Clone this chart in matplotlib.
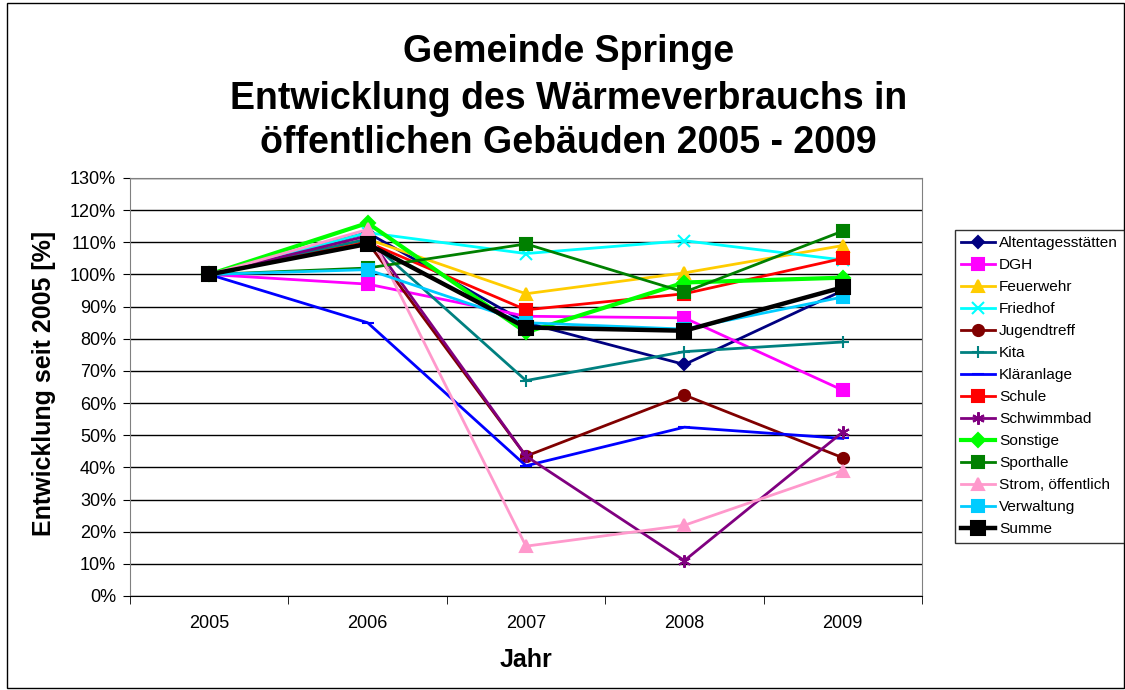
import matplotlib
matplotlib.use("Agg")
import matplotlib.pyplot as plt
from matplotlib.patches import Rectangle
from matplotlib.ticker import FuncFormatter

plt.rcParams['font.family'] = ['Liberation Sans', 'DejaVu Sans']

years = ["2005", "2006", "2007", "2008", "2009"]

altentagesstaetten = [100, 113, 85, 72, 95]
dgh = [100, 97, 87, 86.5, 64]
feuerwehr = [100, 111, 94, 100.5, 109]
friedhof = [100, 113, 106.5, 110.5, 104.5]
jugendtreff = [100, 110, 43.5, 62.5, 43]
kita = [100, 111, 67, 76, 79]
klaeranlage = [100, 85, 40.5, 52.5, 49]
schule = [100, 110, 89, 94, 105]
schwimmbad = [100, 112, 43.5, 11, 51]
sonstige = [100, 116, 82, 97.5, 99]
sporthalle = [100, 102, 109.5, 94.5, 113.5]
strom = [100, 114, 15.5, 22, 39]
verwaltung = [100, 101.5, 85, 83, 93]
summe = [100, 109.5, 83.5, 82.5, 96]

series = [
    ("Altentagesstätten", altentagesstaetten, "#000080", "D", 6, 2.0),
    ("DGH", dgh, "#FF00FF", "s", 8, 2.0),
    ("Feuerwehr", feuerwehr, "#FFCC00", "^", 9, 2.0),
    ("Friedhof", friedhof, "#00FFFF", "x", 8, 2.0),
    ("Jugendtreff", jugendtreff, "#800000", "o", 8, 2.0),
    ("Kita", kita, "#008080", "+", 9, 2.0),
    ("Kläranlage", klaeranlage, "#0000FF", "_", 8, 2.0),
    ("Schule", schule, "#FF0000", "s", 8, 2.0),
    ("Schwimmbad", schwimmbad, "#800080", (6, 2, 0), 9, 2.0),
    ("Sonstige", sonstige, "#00FF00", "D", 7, 3.0),
    ("Sporthalle", sporthalle, "#008000", "s", 8, 2.0),
    ("Strom, öffentlich", strom, "#FF99CC", "^", 9, 2.0),
    ("Verwaltung", verwaltung, "#00CCFF", "s", 8, 2.0),
    ("Summe", summe, "#000000", "s", 10, 3.2),
]

fig = plt.figure(figsize=(11.25, 6.9), dpi=100)
ax = fig.add_axes([130/1125, 1-596/690, (922-130)/1125, (596-178)/690])

x = list(range(len(years)))
handles = []
for name, vals, col, mk, ms, lw in series:
    h, = ax.plot(x, vals, color=col, marker=mk, markersize=ms, linewidth=lw,
                 markeredgecolor=col, markerfacecolor=col, markeredgewidth=1.5,
                 label=name, zorder=3)
    handles.append(h)

ax.set_xlim(-0.5, 4.5)
ax.set_ylim(0, 130)
ax.set_yticks(range(0, 131, 10))
ax.yaxis.set_major_formatter(FuncFormatter(lambda v, p: f"{int(v)}%"))
ax.set_xticks(x)
ax.set_xticklabels(years)
ax.set_xticks([i - 0.5 for i in range(6)], minor=True)
ax.tick_params(axis='x', which='major', length=0, pad=14, labelsize=13)
ax.tick_params(axis='x', which='minor', length=6, direction='out', color='black')
ax.tick_params(axis='y', length=5, direction='out', labelsize=13, pad=5)
ax.yaxis.grid(True, color='black', linewidth=1.0, zorder=0)
ax.set_axisbelow(True)
for s in ['top', 'right', 'left']:
    ax.spines[s].set_color('#808080')
ax.spines['bottom'].set_color('black')

ax.set_xlabel("Jahr", fontsize=18, fontweight='bold')
ax.xaxis.set_label_coords(0.5, (596-648)/418)
ax.set_ylabel("Entwicklung seit 2005 [%]", fontsize=18, fontweight='bold')
ax.yaxis.set_label_coords((56-130)/792, (596-383)/418)

tx = 0.505
fig.text(tx, 1-52/690, "Gemeinde Springe", ha='center', va='center', fontsize=27, fontweight='bold')
fig.text(tx, 1-99/690, "Entwicklung des Wärmeverbrauchs in", ha='center', va='center', fontsize=27, fontweight='bold')
fig.text(tx, 1-143/690, "öffentlichen Gebäuden 2005 - 2009", ha='center', va='center', fontsize=27, fontweight='bold')

leg = fig.legend(handles=handles, loc='upper left',
                 bbox_to_anchor=(955/1125, 1-230/690), fontsize=11.1,
                 frameon=True, fancybox=False, edgecolor='black',
                 handlelength=2.2, labelspacing=0.52, borderpad=0.4,
                 handletextpad=0.25, borderaxespad=0)
leg.get_frame().set_linewidth(1.0)

fig.patches.append(Rectangle((7/1125, 2/690), 1-8/1125, 1-5/690, transform=fig.transFigure,
                             fill=False, edgecolor='black', linewidth=1.0))

fig.savefig("out.png", dpi=100)
